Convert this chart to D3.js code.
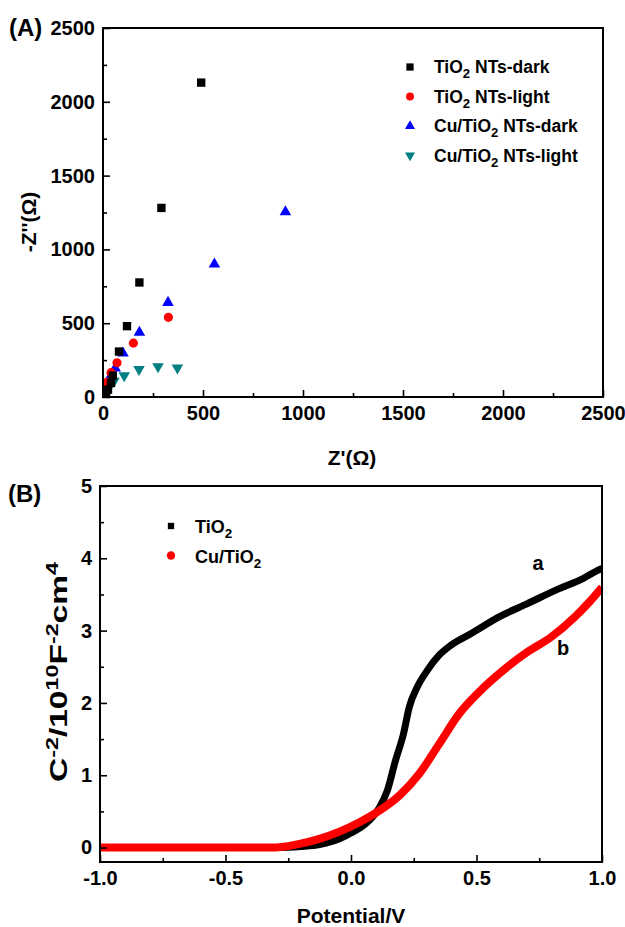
<!DOCTYPE html>
<html>
<head>
<meta charset="utf-8">
<script src="https://cdn.jsdelivr.net/npm/d3@7/dist/d3.min.js"></script>
<style>
  body { margin: 0; background: #fff; }
  svg { display: block; }
  text { font-family: "Liberation Sans", Arial, sans-serif; font-weight: bold; fill: #000; }
</style>
</head>
<body>
<svg width="625" height="927"></svg>
<script>
// panel A: Nyquist points [Z', -Z'']
var tio2Dark = [[8,5],[15,20],[25,50],[40,95],[49,145],[80,308],[120,480],[182,776],[292,1281],[491,2130]];
var tio2Light = [[5,25],[10,60],[20,100],[40,165],[70,232],[152,365],[327,540]];
var cuDark = [[5,10],[10,40],[15,81],[35,135],[61,195],[100,297],[182,438],[325,640],[557,900],[912,1254]];
var cuLight = [[3,5],[8,15],[12,30],[18,50],[27,65],[40,90],[55,108],[106,145],[180,188],[275,206],[372,197]];
var legendA = ["TiO|2| NTs-dark", "TiO|2| NTs-light", "Cu/TiO|2| NTs-dark", "Cu/TiO|2| NTs-light"];

// panel B: Mott-Schottky curves [potential, C^-2]
var msTiO2 = [[-1,0],[-0.6,0],[-0.3,0],[-0.25,0.005],[-0.2,0.015],[-0.126,0.04],[-0.046,0.12],[0,0.2],
  [0.065,0.35],[0.113,0.55],[0.145,0.79],[0.177,1.2],[0.209,1.57],[0.232,1.94],[0.264,2.22],[0.304,2.45],
  [0.351,2.66],[0.399,2.8],[0.479,2.96],[0.59,3.19],[0.701,3.37],[0.829,3.58],[0.924,3.72],[0.987,3.84],[1,3.86]];
var msCu = [[-1,0],[-0.6,0],[-0.31,0],[-0.25,0.02],[-0.205,0.05],[-0.126,0.12],[-0.046,0.22],[0.034,0.35],
  [0.113,0.51],[0.193,0.72],[0.272,1.02],[0.351,1.43],[0.431,1.85],[0.51,2.15],[0.606,2.45],[0.701,2.7],
  [0.797,2.91],[0.892,3.19],[0.956,3.42],[1,3.6]];
var legendB = ["TiO|2|", "Cu/TiO|2|"];

var svg = d3.select("svg");

// writes "a|sub|b" strings with subscripts
function subText(sel, str, size) {
  var parts = str.split("|");
  parts.forEach(function (p, i) {
    if (p === "") return;
    var t = sel.append("tspan").text(p);
    if (i % 2 === 1) t.attr("font-size", size * 0.75).attr("dy", size * 0.3);
    else if (i > 0) t.attr("dy", -size * 0.3);
  });
}

function frame(g, x, y, xMajor, xMinor, yMajor, yMinor, xFmt, yFmt) {
  var x0 = x.range()[0], x1 = x.range()[1], y0 = y.range()[0], y1 = y.range()[1];
  g.append("g").attr("transform", "translate(0," + y0 + ")")
    .call(d3.axisBottom(x).tickValues(xMinor).tickSize(-4).tickFormat(""));
  g.append("g").attr("transform", "translate(" + x0 + ",0)")
    .call(d3.axisLeft(y).tickValues(yMinor).tickSize(-4).tickFormat(""));
  g.append("g").attr("class", "ax").attr("transform", "translate(0," + y0 + ")")
    .call(d3.axisBottom(x).tickValues(xMajor).tickSize(-7).tickPadding(9).tickFormat(xFmt));
  g.append("g").attr("class", "ax").attr("transform", "translate(" + x0 + ",0)")
    .call(d3.axisLeft(y).tickValues(yMajor).tickSize(-7).tickPadding(8).tickFormat(yFmt));
  g.selectAll(".domain").remove();
  g.selectAll(".tick line").attr("stroke", "#000").attr("stroke-width", 1.6);
  g.selectAll(".ax text").attr("font-size", 20).attr("font-family", null).attr("fill", "#000");
  g.append("rect").attr("x", x0).attr("y", y1).attr("width", x1 - x0).attr("height", y0 - y1)
    .attr("fill", "none").attr("stroke", "#000").attr("stroke-width", 2);
}

// ---------- panel A ----------
var xA = d3.scaleLinear().domain([0, 2500]).range([103, 603]);
var yA = d3.scaleLinear().domain([0, 2500]).range([397, 28]);
var gA = svg.append("g");
gA.append("defs").append("clipPath").attr("id", "clipA").append("rect")
  .attr("x", 103).attr("y", 28).attr("width", 500).attr("height", 369);

var seriesA = [
  { data: tio2Dark, sym: d3.symbolSquare, size: 70, color: "#000", rot: 0 },
  { data: tio2Light, sym: d3.symbolCircle, size: 66, color: "#ff0000", rot: 0 },
  { data: cuDark, sym: d3.symbolTriangle, size: 58, color: "#0000ff", rot: 0 },
  { data: cuLight, sym: d3.symbolTriangle, size: 58, color: "#008080", rot: 180 }
];
var plotA = gA.append("g").attr("clip-path", "url(#clipA)");
seriesA.slice().reverse().forEach(function (s) {
  plotA.selectAll(null).data(s.data).enter().append("path")
    .attr("d", d3.symbol(s.sym, s.size))
    .attr("fill", s.color)
    .attr("transform", function (d) { return "translate(" + xA(d[0]) + "," + yA(d[1]) + ") rotate(" + s.rot + ")"; });
});

frame(gA, xA, yA, d3.range(0, 2501, 500), d3.range(250, 2500, 500), d3.range(0, 2501, 500), d3.range(250, 2500, 500),
  d3.format("d"), d3.format("d"));

seriesA.forEach(function (s, i) {
  var yy = 67 + i * 29.5;
  gA.append("path").attr("d", d3.symbol(s.sym, s.size * 0.75)).attr("fill", s.color)
    .attr("transform", "translate(410," + yy + ") rotate(" + s.rot + ")");
  subText(gA.append("text").attr("x", 434).attr("y", yy + 6).attr("font-size", 17.5), legendA[i], 17.5);
});

gA.append("text").attr("x", 9).attr("y", 36).attr("font-size", 24).text("(A)");
gA.append("text").attr("x", 352).attr("y", 465).attr("text-anchor", "middle").attr("font-size", 21).text("Z'(Ω)");
gA.append("text").attr("transform", "translate(36,222) rotate(-90)").attr("text-anchor", "middle")
  .attr("font-size", 21).text("-Z''(Ω)");

// ---------- panel B ----------
var xB = d3.scaleLinear().domain([-1, 1]).range([100, 602]);
var yB = d3.scaleLinear().domain([-0.2, 5]).range([862, 486]);
var gB = svg.append("g");
gB.append("defs").append("clipPath").attr("id", "clipB").append("rect")
  .attr("x", 100).attr("y", 486).attr("width", 502).attr("height", 376);

var line = d3.line().x(function (d) { return xB(d[0]); }).y(function (d) { return yB(d[1]); })
  .curve(d3.curveMonotoneX);
var plotB = gB.append("g").attr("clip-path", "url(#clipB)");
plotB.append("path").datum(msTiO2).attr("d", line).attr("fill", "none").attr("stroke", "#000")
  .attr("stroke-width", 7);
plotB.append("path").datum(msCu).attr("d", line).attr("fill", "none").attr("stroke", "#ff0000")
  .attr("stroke-width", 8);

var fmtB = function (d) { return d3.format(".1f")(d).replace("−", "-"); };
frame(gB, xB, yB, d3.range(-1, 1.01, 0.5), [-0.75, -0.25, 0.25, 0.75], d3.range(0, 5.1, 1), d3.range(0.5, 5, 1),
  fmtB, d3.format("d"));

var symB = [{ sym: d3.symbolSquare, size: 40, color: "#000" }, { sym: d3.symbolCircle, size: 55, color: "#ff0000" }];
symB.forEach(function (s, i) {
  var yy = 526 + i * 29.5;
  gB.append("path").attr("d", d3.symbol(s.sym, s.size)).attr("fill", s.color)
    .attr("transform", "translate(171," + yy + ")");
  subText(gB.append("text").attr("x", 195).attr("y", yy + 7).attr("font-size", 18), legendB[i], 18);
});

gB.append("text").attr("x", 538).attr("y", 570).attr("text-anchor", "middle").attr("font-size", 20).text("a");
gB.append("text").attr("x", 563).attr("y", 655).attr("text-anchor", "middle").attr("font-size", 20).text("b");

gB.append("text").attr("x", 8).attr("y", 502).attr("font-size", 24).text("(B)");
gB.append("text").attr("x", 351).attr("y", 923).attr("text-anchor", "middle").attr("font-size", 21).text("Potential/V");

// y label, a little stretched along its length like the original
var yl = gB.append("text").attr("transform", "translate(67,672) rotate(-90)").attr("text-anchor", "middle")
  .attr("font-size", 23).attr("textLength", 220).attr("lengthAdjust", "spacingAndGlyphs");
[["C", 0], ["-2", 1], ["/10", 0], ["10", 1], ["F", 0], ["-2", 1], ["cm", 0], ["4", 1]].forEach(function (p, i) {
  var t = yl.append("tspan").text(p[0]);
  if (p[1]) t.attr("font-size", 16).attr("dy", -9);
  else if (i > 0) t.attr("dy", 9);
});
</script>
</body>
</html>
